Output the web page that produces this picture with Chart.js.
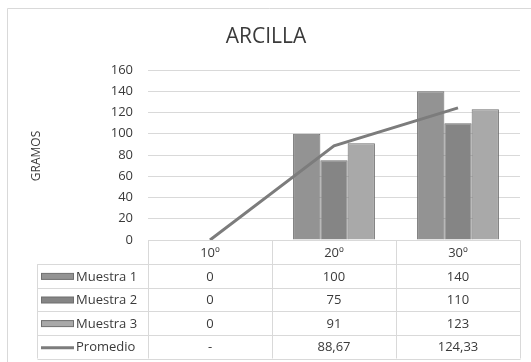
<!DOCTYPE html>
<html>
<head>
<meta charset="utf-8">
<script src="https://cdn.jsdelivr.net/npm/chart.js@4/dist/chart.umd.min.js"></script>
<style>
  html, body { margin: 0; padding: 0; background: #fff; }
  canvas { display: block; }
</style>
</head>
<body>
<canvas id="c" width="531" height="362"></canvas>
<script>
// Temperaturas ensayadas y masas medidas (g)
const categories = ['10º', '20º', '30º'];
const muestra1 = [0, 100, 140];
const muestra2 = [0, 75, 110];
const muestra3 = [0, 91, 123];
const promedio = [0, 88.67, 124.33];
const yTicks = [0, 20, 40, 60, 80, 100, 120, 140, 160];

const FONT = '"Open Sans", "DejaVu Sans", sans-serif';
const TEXT = '#3a3a3a';
const LINE_GRID = '#d9d9d9';

const series = [
  { label: 'Muestra 1', data: muestra1, color: '#939393', kind: 'bar', fmt: v => String(v) },
  { label: 'Muestra 2', data: muestra2, color: '#858585', kind: 'bar', fmt: v => String(v) },
  { label: 'Muestra 3', data: muestra3, color: '#a9a9a9', kind: 'bar', fmt: v => String(v) },
  { label: 'Promedio', data: promedio, color: '#7c7c7c', kind: 'line',
    fmt: v => v === 0 ? '-' : v.toFixed(2).replace('.', ',') }
];

// Frame, title, axis title and the data table underneath the plot
const tablePlugin = {
  id: 'tablePlugin',
  beforeDraw(chart) {
    const ctx = chart.ctx;
    ctx.save();
    ctx.fillStyle = '#fff';
    ctx.fillRect(0, 0, chart.width, chart.height);
    ctx.strokeStyle = LINE_GRID;
    ctx.lineWidth = 1;
    ctx.beginPath();
    ctx.moveTo(7.5, chart.height);
    ctx.lineTo(7.5, 8.5);
    ctx.lineTo(chart.width, 8.5);
    ctx.stroke();

    ctx.fillStyle = TEXT;
    ctx.font = '21px ' + FONT;
    ctx.textAlign = 'center';
    ctx.textBaseline = 'middle';
    ctx.fillText('ARCILLA', 266, 37);

    ctx.font = '12px ' + FONT;
    ctx.translate(37, 156);
    ctx.rotate(-Math.PI / 2);
    ctx.fillText('GRAMOS', 0, 0);
    ctx.restore();
  },
  afterDraw(chart) {
    const ctx = chart.ctx;
    const x = chart.scales.x;
    const area = chart.chartArea;
    const top = Math.round(area.bottom) + 0.5;
    const rowH = 23.6;
    const legendLeft = 37.5;
    const half = (x.getPixelForValue(1) - x.getPixelForValue(0)) / 2;
    const colEdges = [];
    for (let i = 0; i <= categories.length; i++) {
      colEdges.push(Math.round(x.getPixelForValue(0) - half + i * 2 * half) + 0.5);
    }
    const rows = series.length;
    const bottom = top + rowH * (rows + 1);

    ctx.save();
    ctx.strokeStyle = LINE_GRID;
    ctx.lineWidth = 1;
    ctx.beginPath();
    // header row line
    ctx.moveTo(colEdges[0], top);
    ctx.lineTo(colEdges[colEdges.length - 1], top);
    for (let r = 1; r <= rows + 1; r++) {
      const y = Math.round(top + r * rowH) + 0.5;
      ctx.moveTo(legendLeft, y);
      ctx.lineTo(colEdges[colEdges.length - 1], y);
    }
    colEdges.forEach(cx => { ctx.moveTo(cx, top); ctx.lineTo(cx, bottom); });
    ctx.moveTo(legendLeft, top + rowH);
    ctx.lineTo(legendLeft, bottom);
    ctx.stroke();

    ctx.fillStyle = TEXT;
    ctx.font = '13px ' + FONT;
    ctx.textAlign = 'center';
    ctx.textBaseline = 'middle';
    categories.forEach((c, i) => {
      ctx.fillText(c, x.getPixelForValue(i), top + rowH / 2 + 1);
    });

    series.forEach((s, r) => {
      const cy = top + (r + 1) * rowH + rowH / 2 + 1;
      // legend key
      if (s.kind === 'bar') {
        ctx.fillStyle = s.color;
        ctx.fillRect(41.5, cy - 3.5, 32, 6);
        ctx.strokeStyle = '#6f6f6f';
        ctx.strokeRect(41.5, cy - 3.5, 32, 6);
      } else {
        ctx.strokeStyle = s.color;
        ctx.lineWidth = 3;
        ctx.beginPath();
        ctx.moveTo(41, cy);
        ctx.lineTo(74, cy);
        ctx.stroke();
        ctx.lineWidth = 1;
      }
      ctx.fillStyle = TEXT;
      ctx.textAlign = 'left';
      ctx.fillText(s.label, 76, cy);
      ctx.textAlign = 'center';
      s.data.forEach((v, i) => {
        ctx.fillText(s.fmt(v), x.getPixelForValue(i), cy);
      });
    });
    ctx.restore();
  }
};

const datasets = series.map((s, i) => s.kind === 'bar' ? {
  type: 'bar',
  label: s.label,
  data: s.data,
  backgroundColor: s.color,
  borderColor: '#6f6f6f',
  borderWidth: 1,
  barPercentage: 1,
  categoryPercentage: 0.66,
  order: 1
} : {
  type: 'line',
  label: s.label,
  data: s.data,
  borderColor: s.color,
  borderWidth: 3,
  pointRadius: 0,
  tension: 0,
  order: 0
});

new Chart(document.getElementById('c'), {
  data: { labels: categories, datasets },
  options: {
    responsive: false,
    devicePixelRatio: 1,
    animation: false,
    layout: { padding: { top: 70, right: 11, bottom: 122, left: 0 } },
    plugins: { legend: { display: false }, title: { display: false }, tooltip: { enabled: false } },
    scales: {
      x: { display: false },
      y: {
        min: 0,
        max: 160,
        afterFit: s => { s.width = 148; },
        afterBuildTicks: s => { s.ticks = yTicks.map(v => ({ value: v })); },
        border: { display: false },
        grid: { color: LINE_GRID, drawTicks: false, lineWidth: 1 },
        ticks: { color: TEXT, font: { family: FONT, size: 13 }, padding: 15 }
      }
    }
  },
  plugins: [tablePlugin]
});
</script>
</body>
</html>
